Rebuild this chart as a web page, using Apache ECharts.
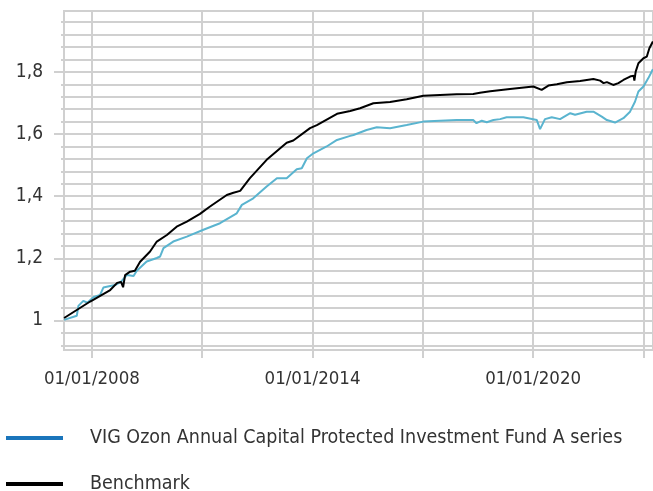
<!DOCTYPE html>
<html>
<head>
<meta charset="utf-8">
<script src="https://cdn.jsdelivr.net/npm/echarts@6/dist/echarts.min.js"></script>
<style>
html, body { margin: 0; padding: 0; background: #fff; }
#chart { width: 653px; height: 491px; }
</style>
</head>
<body>
<div id="chart"></div>
<script>
// 数据
var fundName = 'VIG Ozon Annual Capital Protected Investment Fund A series'
var benchName = 'Benchmark'

var fundDates = ['2007-03-31', '2007-08-04', '2007-08-20', '2007-10-08', '2007-11-17', '2008-01-16', '2008-03-22', '2008-04-24',
  '2008-07-01', '2008-08-19', '2008-10-17', '2008-12-13', '2009-02-18', '2009-03-22', '2009-06-28', '2009-10-07',
  '2009-11-09', '2009-12-12', '2010-03-19', '2010-08-01', '2011-01-13', '2011-06-27', '2011-12-10', '2012-01-30',
  '2012-05-22', '2012-10-02', '2013-01-12', '2013-04-19', '2013-07-28', '2013-09-16', '2013-11-06', '2014-01-10',
  '2014-05-21', '2014-09-01', '2015-01-10', '2015-02-12', '2015-06-22', '2015-10-01', '2016-02-10', '2016-07-24',
  '2017-01-06', '2017-06-20', '2017-12-03', '2018-05-16', '2018-06-18', '2018-08-09', '2018-09-28', '2018-12-03',
  '2019-02-07', '2019-04-13', '2019-09-26', '2020-02-07', '2020-03-10', '2020-04-28', '2020-07-04', '2020-09-25',
  '2021-01-04', '2021-02-21', '2021-06-16', '2021-08-22', '2021-11-13', '2022-01-03', '2022-03-25', '2022-06-16',
  '2022-08-21', '2022-10-09', '2022-11-12', '2023-01-01', '2023-02-19', '2023-04-05']
var fundValues = [1.002, 1.015, 1.047, 1.063, 1.057, 1.075, 1.082, 1.106,
  1.111, 1.114, 1.125, 1.146, 1.143, 1.160, 1.190, 1.201,
  1.206, 1.233, 1.254, 1.270, 1.292, 1.313, 1.345, 1.372,
  1.393, 1.431, 1.458, 1.458, 1.487, 1.490, 1.522, 1.538,
  1.560, 1.581, 1.594, 1.597, 1.613, 1.622, 1.619, 1.629,
  1.640, 1.643, 1.645, 1.645, 1.635, 1.643, 1.638, 1.645,
  1.648, 1.654, 1.654, 1.645, 1.616, 1.648, 1.654, 1.648,
  1.667, 1.662, 1.672, 1.672, 1.656, 1.645, 1.637, 1.651,
  1.672, 1.704, 1.737, 1.753, 1.780, 1.809]

var benchDates = ['2007-03-31', '2007-12-15', '2008-07-01', '2008-09-08', '2008-10-17', '2008-11-06', '2008-11-26', '2009-01-15',
  '2009-03-03', '2009-04-24', '2009-08-01', '2009-10-07', '2010-01-15', '2010-04-22', '2010-08-01', '2010-12-10',
  '2011-03-16', '2011-09-02', '2011-11-07', '2012-01-13', '2012-04-19', '2012-10-02', '2013-04-19', '2013-06-24',
  '2013-12-07', '2014-02-13', '2014-09-01', '2015-01-10', '2015-04-18', '2015-08-28', '2016-02-10', '2016-07-24',
  '2017-01-06', '2017-06-20', '2017-12-03', '2018-05-16', '2018-07-22', '2018-11-01', '2019-05-16', '2020-01-03',
  '2020-03-26', '2020-06-01', '2020-08-24', '2020-12-01', '2021-04-12', '2021-08-22', '2021-10-28', '2021-12-01',
  '2022-01-03', '2022-03-07', '2022-04-27', '2022-06-16', '2022-08-21', '2022-09-25', '2022-10-03', '2022-10-16',
  '2022-11-12', '2023-01-01', '2023-02-03', '2023-03-01', '2023-04-05']
var benchValues = [1.008, 1.061, 1.098, 1.121, 1.124, 1.107, 1.146, 1.157,
  1.160, 1.189, 1.222, 1.254, 1.275, 1.302, 1.318, 1.343,
  1.366, 1.404, 1.411, 1.417, 1.458, 1.517, 1.572, 1.579,
  1.619, 1.629, 1.665, 1.674, 1.683, 1.699, 1.703, 1.712,
  1.723, 1.726, 1.728, 1.729, 1.733, 1.738, 1.745, 1.753,
  1.742, 1.756, 1.760, 1.767, 1.771, 1.777, 1.772, 1.764,
  1.767, 1.758, 1.764, 1.774, 1.785, 1.788, 1.772, 1.801,
  1.828, 1.844, 1.849, 1.876, 1.898]

// 刻度
var xTickDates = ['2008-01-01', '2011-01-01', '2014-01-01', '2017-01-01', '2020-01-01', '2023-01-01']
var xLabelDates = ['2008-01-01', '2014-01-01', '2020-01-01']
var yLabelValues = [1, 1.2, 1.4, 1.6, 1.8]

var yGridValues = []
for (var k = 0; k <= 26; k++) {
  yGridValues.push(Math.round((0.92 + 0.04 * k) * 100) / 100)
}

function ts (s) { return +echarts.time.parse(s) }
function pad (n) { return n < 10 ? '0' + n : '' + n }
function pairs (dates, values) {
  return dates.map(function (d, i) { return [ts(d), values[i]] })
}

var font = "'DejaVu Sans Condensed', 'DejaVu Sans', sans-serif"
var gridColor = '#d0d0d0'
var textColor = '#333'

var myChart = echarts.init(document.getElementById('chart'))

var option = {
  animation: false,
  textStyle: { fontFamily: font },
  grid: {
    left: 64, right: 0, top: 11, bottom: 141,
    show: true, borderColor: gridColor, borderWidth: 2
  },
  legend: {
    orient: 'vertical',
    left: 1,
    top: 423,
    height: 90,
    itemGap: 26,
    icon: 'rect',
    itemWidth: 57,
    itemHeight: 4,
    textStyle: { fontFamily: font, fontSize: 19.5, color: textColor, padding: [0, 0, 0, 22] },
    data: [
      { name: fundName, itemStyle: { color: '#1a75bb' } },
      { name: benchName, itemStyle: { color: '#000' } }
    ]
  },
  xAxis: {
    type: 'value',
    min: ts('2007-03-30'),
    max: ts('2023-04-06'),
    axisLine: { lineStyle: { color: gridColor, width: 2 } },
    axisTick: { length: 8, lineStyle: { color: gridColor, width: 2 }, customValues: xTickDates.map(ts) },
    splitLine: { show: true, lineStyle: { color: gridColor, width: 2 } },
    axisLabel: {
      customValues: xLabelDates.map(ts),
      margin: 20,
      fontSize: 18.5,
      fontFamily: font,
      color: textColor,
      formatter: function (v) {
        var d = new Date(v)
        return pad(d.getDate()) + '/' + pad(d.getMonth() + 1) + '/' + d.getFullYear()
      }
    }
  },
  yAxis: [{
    type: 'value',
    min: 0.905,
    max: 1.996,
    position: 'left',
    axisLine: { show: true, lineStyle: { color: gridColor, width: 2 } },
    axisTick: { show: true, length: 3, lineStyle: { color: gridColor, width: 2 }, customValues: yGridValues },
    splitLine: { show: true, lineStyle: { color: gridColor, width: 2 } },
    axisLabel: { show: false }
  }, {
    type: 'value',
    min: 0.905,
    max: 1.996,
    position: 'left',
    axisLine: { show: false },
    axisTick: { show: true, length: 10, lineStyle: { color: gridColor, width: 2 }, customValues: yLabelValues },
    splitLine: { show: false },
    axisLabel: {
      customValues: yLabelValues,
      margin: 21,
      fontSize: 19,
      fontFamily: font,
      color: textColor,
      formatter: function (v) { return String(v).replace('.', ',') }
    }
  }],
  series: [{
    name: fundName,
    type: 'line',
    showSymbol: false,
    lineStyle: { color: '#5ab4cf', width: 2 },
    itemStyle: { color: '#5ab4cf' },
    data: pairs(fundDates, fundValues)
  }, {
    name: benchName,
    type: 'line',
    showSymbol: false,
    lineStyle: { color: '#000', width: 2 },
    itemStyle: { color: '#000' },
    data: pairs(benchDates, benchValues)
  }]
}

myChart.setOption(option)
</script>
</body>
</html>
